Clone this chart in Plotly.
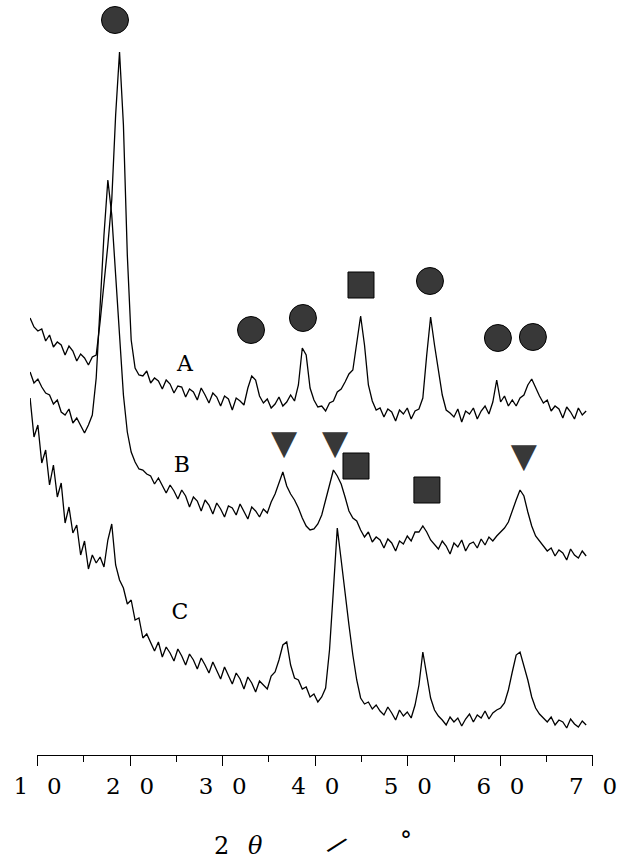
import plotly.graph_objects as go

# XRD patterns (arbitrary intensity, stacked offsets)
SCAN_START = 9.2
SCAN_STEP = 0.42   # digitising step in degrees

A = [437, 428, 424, 426, 414, 420, 408, 413, 410, 400, 409, 404, 394, 401, 397, 390,
     398, 400, 433, 470, 510, 555, 640, 703, 630, 500, 415, 387, 380, 379, 384, 372,
     377, 374, 366, 375, 371, 362, 369, 368, 358, 366, 363, 355, 367, 360, 352, 362,
     358, 349, 359, 356, 345, 357, 354, 350, 367, 379, 375, 359, 352, 356, 347, 351,
     358, 349, 353, 360, 354, 370, 407, 400, 367, 355, 348, 349, 344, 352, 354, 363,
     366, 373, 381, 385, 410, 439, 410, 370, 354, 345, 347, 338, 346, 343, 334, 345,
     341, 347, 336, 344, 346, 357, 400, 438, 410, 383, 360, 345, 342, 338, 346, 333,
     344, 341, 347, 336, 344, 349, 341, 353, 375, 353, 359, 349, 355, 349, 357, 360,
     370, 376, 367, 359, 352, 355, 344, 349, 346, 337, 348, 343, 336, 347, 340, 344]

B = [383, 372, 376, 368, 362, 360, 351, 355, 343, 340, 346, 332, 337, 329, 322, 330,
     340, 377, 455, 520, 575, 540, 480, 415, 360, 323, 303, 293, 286, 285, 281, 279,
     271, 277, 270, 262, 270, 264, 256, 265, 259, 248, 258, 254, 244, 255, 250, 241,
     252, 246, 238, 249, 247, 240, 251, 243, 236, 248, 244, 238, 246, 242, 253, 261,
     273, 283, 269, 261, 255, 247, 237, 229, 225, 226, 231, 240, 255, 270, 285, 279,
     271, 258, 244, 237, 234, 225, 218, 223, 213, 218, 215, 207, 216, 212, 204, 214,
     211, 219, 214, 223, 223, 229, 223, 215, 210, 206, 214, 209, 201, 212, 208, 215,
     204, 211, 213, 207, 216, 210, 218, 214, 219, 223, 227, 233, 245, 255, 265, 259,
     243, 229, 219, 214, 209, 204, 207, 199, 205, 202, 195, 206, 200, 197, 204, 199]

C = [357, 318, 330, 292, 305, 270, 290, 258, 272, 232, 248, 222, 230, 200, 214, 186,
     200, 192, 198, 188, 215, 231, 190, 175, 167, 151, 155, 135, 137, 117, 121, 112,
     104, 113, 98, 108, 102, 94, 106, 99, 90, 101, 95, 86, 97, 90, 82, 93,
     85, 76, 88, 80, 71, 82, 76, 66, 78, 72, 63, 74, 70, 66, 79, 83,
     95, 110, 113, 90, 77, 75, 66, 68, 58, 61, 53, 58, 67, 105, 165, 227,
     195, 160, 130, 100, 75, 57, 51, 53, 46, 50, 44, 40, 48, 42, 35, 45,
     39, 43, 37, 50, 70, 103, 80, 57, 45, 39, 35, 30, 38, 33, 37, 29,
     36, 41, 33, 40, 37, 44, 36, 42, 45, 47, 52, 65, 83, 100, 103, 90,
     75, 58, 47, 41, 37, 33, 38, 30, 35, 33, 27, 36, 31, 28, 34, 30]

two_theta = [round(SCAN_START + SCAN_STEP * i, 2) for i in range(len(A))]

# Phase markers (2theta, height)
CIRCLE_X = [18.37, 33.06, 38.67, 52.39, 59.73, 63.51]
CIRCLE_Y = [735, 425, 437, 474, 417, 418]
SQUARE_X = [44.94, 44.40, 52.06]
SQUARE_Y = [470, 289, 265]
TRIANGLE_X = [36.62, 42.13, 62.54]
TRIANGLE_Y = [310, 310, 297]

LABELS = ["A", "B", "C"]
LABEL_X = [25.93, 25.60, 25.39]
LABEL_Y = [390, 289, 142]

TICK_VALS = [10, 20, 30, 40, 50, 60, 70]
TICK_TEXT = ["1\u2002\u00a00", "2\u2002\u00a00", "3\u2002\u00a00", "4\u2002\u00a00",
             "5\u2002\u00a00", "6\u2002\u00a00", "7\u2002\u00a00"]

X_MIN, X_MAX = 9.19, 70
Y_MIN, Y_MAX = 0, 755

SERIF = "DejaVu Serif"
INK = "black"
FILL = "#383838"

fig = go.Figure()

for ys in (A, B, C):
    fig.add_trace(go.Scatter(x=two_theta, y=ys, mode="lines",
                             line=dict(color=INK, width=1.3),
                             showlegend=False, hoverinfo="skip"))

fig.add_trace(go.Scatter(x=CIRCLE_X, y=CIRCLE_Y, mode="markers", cliponaxis=False,
                         marker=dict(symbol="circle", size=27, color=FILL,
                                     line=dict(color=INK, width=1)),
                         showlegend=False, hoverinfo="skip"))
fig.add_trace(go.Scatter(x=SQUARE_X, y=SQUARE_Y, mode="markers", cliponaxis=False,
                         marker=dict(symbol="square", size=26, color=FILL,
                                     line=dict(color=INK, width=1)),
                         showlegend=False, hoverinfo="skip"))
fig.add_trace(go.Scatter(x=TRIANGLE_X, y=TRIANGLE_Y, mode="text", cliponaxis=False,
                         text=["\u25BC"] * len(TRIANGLE_X),
                         textposition="middle center",
                         textfont=dict(family="DejaVu Sans", size=34, color=FILL),
                         showlegend=False, hoverinfo="skip"))
fig.add_trace(go.Scatter(x=LABEL_X, y=LABEL_Y, mode="text", text=LABELS,
                         textposition="middle center", cliponaxis=False,
                         textfont=dict(family=SERIF, size=22, color=INK),
                         showlegend=False, hoverinfo="skip"))

# visible 2theta axis on its own domain so that it begins exactly at 10
fig.add_trace(go.Scatter(x=[10, 70], y=[None, None], xaxis="x2",
                         mode="lines", showlegend=False, hoverinfo="skip"))

title_font = dict(family=SERIF, size=24, color=INK)
fig.update_layout(
    width=620, height=861,
    margin=dict(l=30, r=27, t=0, b=106),
    paper_bgcolor="white", plot_bgcolor="rgba(0,0,0,0)",
    xaxis=dict(range=[X_MIN, X_MAX], domain=[0, 1], visible=False),
    xaxis2=dict(range=[10, 70], domain=[(10 - X_MIN) / (X_MAX - X_MIN), 1],
                anchor="y", side="bottom",
                showline=True, linecolor=INK, linewidth=1.2,
                showgrid=False, zeroline=False,
                ticks="outside", ticklen=10, tickwidth=1, tickcolor=INK,
                tickvals=TICK_VALS, ticktext=TICK_TEXT,
                ticklabeloverflow="allow",
                tickfont=dict(family=SERIF, size=23, color=INK),
                minor=dict(dtick=5, tick0=10, ticks="outside", ticklen=6,
                           tickwidth=1, tickcolor=INK, showgrid=False)),
    yaxis=dict(range=[Y_MIN, Y_MAX], visible=False, fixedrange=True),
    annotations=[
        dict(xref="paper", yref="paper", x=0.341, y=-0.121, text="2",
             xanchor="center", yanchor="middle", showarrow=False, font=title_font),
        dict(xref="paper", yref="paper", x=0.40, y=-0.121, text="<i>θ</i>",
             xanchor="center", yanchor="middle", showarrow=False, font=title_font),
        dict(xref="paper", yref="paper", x=0.547, y=-0.119, text="/",
             textangle=40, xanchor="center", yanchor="middle", showarrow=False,
             font=dict(family=SERIF, size=26, color=INK)),
        dict(xref="paper", yref="paper", x=0.668, y=-0.1135, text="°",
             xanchor="center", yanchor="middle", showarrow=False, font=title_font),
    ],
)

fig.write_html("out.html", config={"displayModeBar": False},
               post_script="document.body.style.margin='0';")
